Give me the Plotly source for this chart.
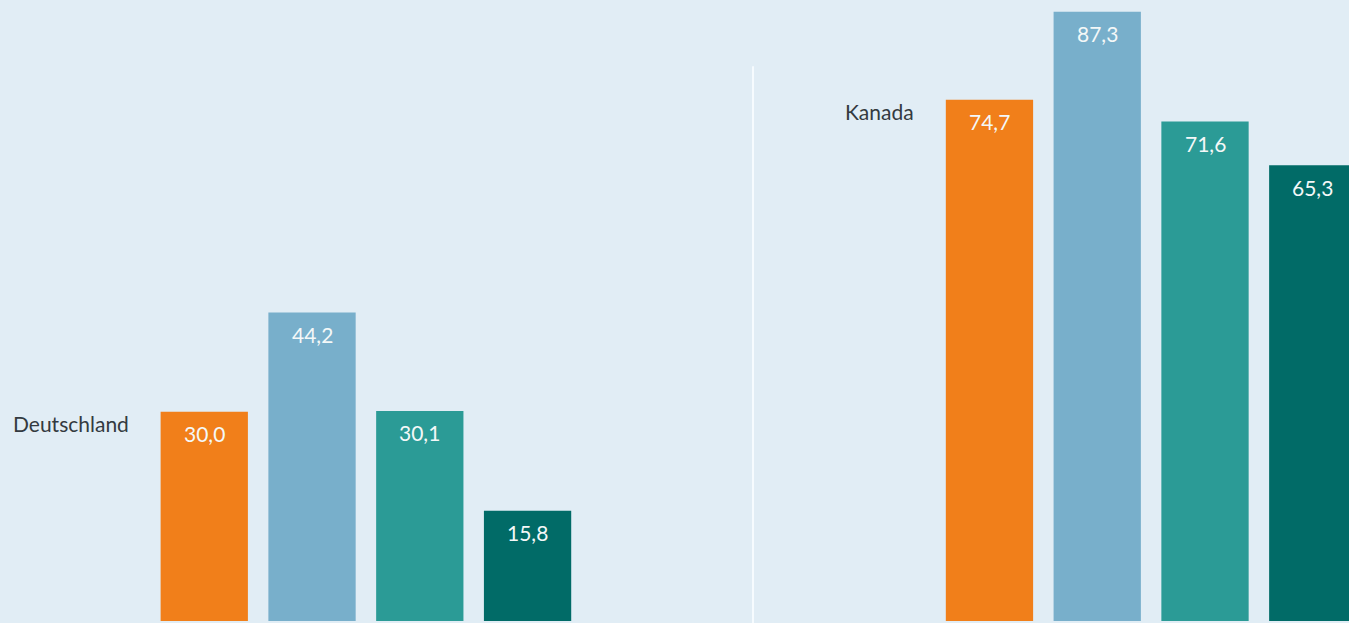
import plotly.graph_objects as go

countries = ["Deutschland", "Kanada"]
series_names = ["Serie 1", "Serie 2", "Serie 3", "Serie 4"]
values = {
    "Serie 1": [30.0, 74.7],
    "Serie 2": [44.2, 87.3],
    "Serie 3": [30.1, 71.6],
    "Serie 4": [15.8, 65.3],
}
colors = ["#f17f1a", "#78afcb", "#2b9b96", "#016b67"]

BG = "#e1edf5"
group_width = 0.549   # fraction of category spacing taken by a group
slot = group_width / len(series_names)
bar_frac = 0.81

fig = go.Figure()
annotations = []
for i, name in enumerate(series_names):
    xs = [c + (i - (len(series_names) - 1) / 2) * slot for c in range(len(countries))]
    vals = values[name]
    fig.add_trace(go.Bar(
        x=xs, y=vals, width=slot * bar_frac,
        marker=dict(color=colors[i], line=dict(width=0)),
        name=name, showlegend=False, hoverinfo="skip",
    ))
    for x, v in zip(xs, vals):
        annotations.append(dict(
            x=x, y=v, xref="x", yref="y", text=f"{v:.1f}".replace(".", ","),
            showarrow=False, yanchor="middle", xanchor="center", yshift=-22,
            font=dict(family="Lato", size=21, color="#f4f8f8"),
        ))

# country labels left of each group, aligned with first bar top
for c, name in enumerate(countries):
    first_left = c - group_width / 2 + slot * (1 - bar_frac) / 2
    annotations.append(dict(
        x=first_left, y=values[series_names[0]][c], xref="x", yref="y",
        text=name, showarrow=False, xanchor="right", yanchor="middle",
        xshift=-30, yshift=-12,
        font=dict(family="Lato", size=21, color="#333a40"),
    ))

fig.add_shape(type="line", x0=0.493, x1=0.493, y0=-1, y1=79.5, xref="x", yref="y",
              line=dict(color="#f6fbfe", width=2), layer="below")

fig.update_layout(
    width=1349, height=623,
    margin=dict(l=0, r=0, t=0, b=0),
    paper_bgcolor=BG, plot_bgcolor=BG,
    barmode="overlay",
    annotations=annotations,
    xaxis=dict(range=[-0.466, 1.252], visible=False, fixedrange=True),
    yaxis=dict(range=[-0.29, 89.0], visible=False, fixedrange=True),
)

fig.write_html("out.html", config={"displayModeBar": False})
